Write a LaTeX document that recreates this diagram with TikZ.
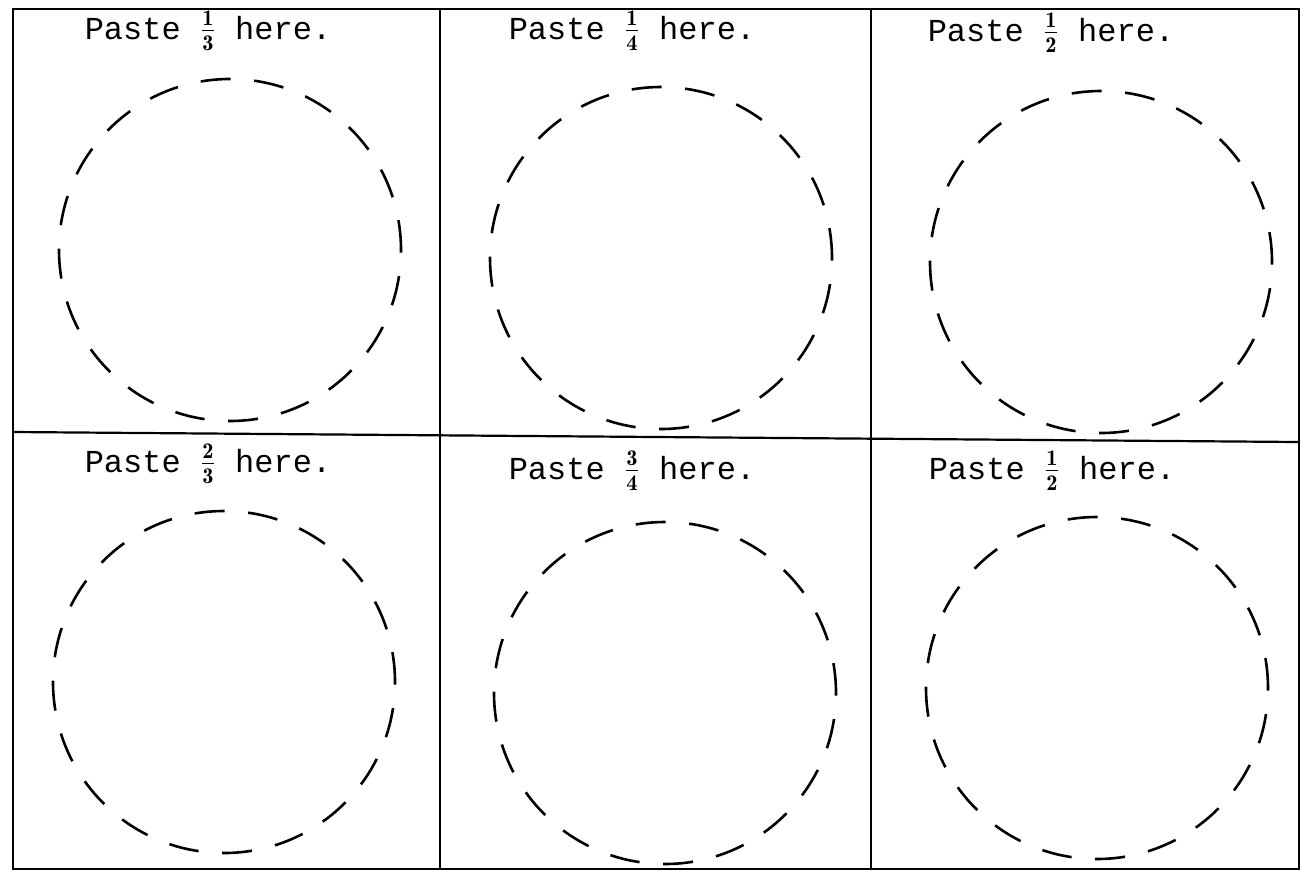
\documentclass[tikz,border=0pt]{standalone}
\usepackage{fontspec}
\setmonofont{Liberation Mono}
\usetikzlibrary{calc}

\begin{document}
\begin{tikzpicture}[x=0.5pt, y=-0.5pt,
		frame/.style={line width=1.4pt},
		divider/.style={line width=1.1pt},
		pastecirc/.style={line width=1.3pt, dash pattern=on 15pt off 11.8pt},
		pastetext/.style={anchor=base, inner sep=0pt, font=\ttfamily\fontsize{16}{19}\selectfont}]
	\useasboundingbox (0,0) rectangle (1302,879);
	% cell borders
	\coordinate (nw) at (13,9); \coordinate (se) at (1299,869);
	\coordinate (ml) at (13,432); \coordinate (mr) at (1299,442);
	\draw[frame] (nw) rectangle (se);
	\draw[divider] (ml) -- (mr);
	\draw[divider] (440,9) -- (440,869);
	\draw[divider] (871,9) -- (871,869);
	% circles to paste on
	\coordinate (c1) at (230,250); \coordinate (c2) at (661,258); \coordinate (c3) at (1101,262);
	\coordinate (c4) at (224,682); \coordinate (c5) at (665,693); \coordinate (c6) at (1097,688);
	\foreach \c in {c1,c2,c3,c4,c5,c6}
		\draw[pastecirc] (\c) circle[radius=85.5pt];
	% labels
	\node[pastetext] (t1) at (208,39) {Paste \(\frac{\mathbf{1}}{\mathbf{3}}\) here.};
	\node[pastetext] (t2) at (632,39) {Paste \(\frac{\mathbf{1}}{\mathbf{4}}\) here.};
	\node[pastetext] (t3) at (1051,41) {Paste \(\frac{\mathbf{1}}{\mathbf{2}}\) here.};
	\node[pastetext] (t4) at (208,472) {Paste \(\frac{\mathbf{2}}{\mathbf{3}}\) here.};
	\node[pastetext] (t5) at (632,479) {Paste \(\frac{\mathbf{3}}{\mathbf{4}}\) here.};
	\node[pastetext] (t6) at (1052,479) {Paste \(\frac{\mathbf{1}}{\mathbf{2}}\) here.};
\end{tikzpicture}
\end{document}
